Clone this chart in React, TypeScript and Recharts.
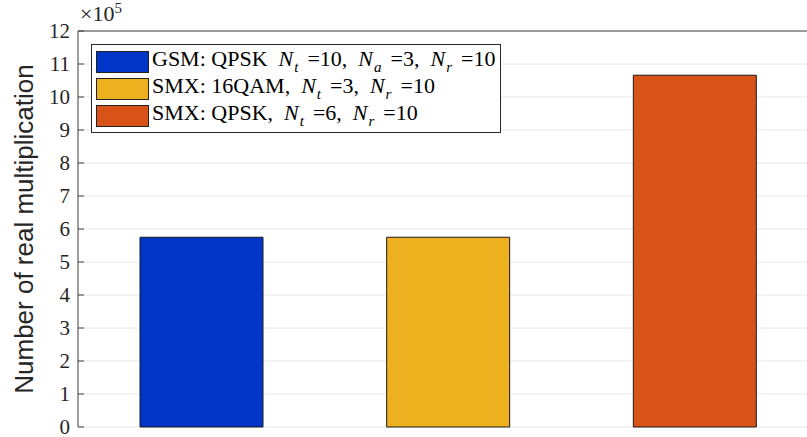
import React from 'react';
import {
  BarChart,
  Bar,
  Cell,
  XAxis,
  YAxis,
  CartesianGrid,
  ReferenceLine,
} from 'recharts';

// values are in units of 10^5
const schemes = ['GSM', 'SMX16', 'SMX4'];
const multiplications = [5.75, 5.75, 10.66];
const barColors = ['#0035c8', '#edb120', '#d95319'];
const yTicks = [0, 1, 2, 3, 4, 5, 6, 7, 8, 9, 10, 11, 12];

const legendLabels = [
  { head: 'GSM: QPSK', parts: [['t', '10'], ['a', '3'], ['r', '10']] },
  { head: 'SMX: 16QAM,', parts: [['t', '3'], ['r', '10']] },
  { head: 'SMX: QPSK,', parts: [['t', '6'], ['r', '10']] },
];

const data = schemes.map((name, i) => ({ name, value: multiplications[i] }));

const serif = '"Liberation Serif", "DejaVu Serif", serif';

function LegendBox() {
  return (
    <div
      style={{
        position: 'absolute',
        left: 91,
        top: 44,
        border: '1px solid #262626',
        background: '#fff',
        padding: '3px 5px 3px 4px',
        fontFamily: serif,
        fontSize: 22,
        color: '#000',
        lineHeight: 1,
      }}
    >
      {legendLabels.map((l, i) => (
        <div key={i} style={{ display: 'flex', alignItems: 'center', height: 27 }}>
          <span
            style={{
              display: 'inline-block',
              width: 51,
              height: 20,
              background: barColors[i],
              border: '1px solid #222',
              marginRight: 3,
              flex: 'none',
            }}
          />
          <span style={{ whiteSpace: 'nowrap' }}>
            {l.head}
            {l.parts.map(([sub, val], j) => (
              <span key={j}>
                <i style={{ marginLeft: 11 }}>N</i>
                <sub style={{ fontSize: 15, fontStyle: 'italic', paddingLeft: 1 }}>{sub}</sub>
                <span style={{ marginLeft: 9 }}>={val}</span>
                {j < l.parts.length - 1 ? ',' : ''}
              </span>
            ))}
          </span>
        </div>
      ))}
    </div>
  );
}

export default function App() {
  return (
    <div
      style={{
        position: 'absolute',
        left: 0,
        top: 0,
        width: 807,
        height: 437,
        overflow: 'hidden',
        background: '#fff',
      }}
    >
      <BarChart
        width={830}
        height={437}
        data={data}
        margin={{ top: 31, right: 12, left: 0, bottom: 10 }}
      >
        <CartesianGrid vertical={false} stroke="#e6e6e6" />
        <XAxis
          dataKey="name"
          tick={false}
          tickSize={-6}
          stroke="#262626"
          height={0}
        />
        <XAxis
          xAxisId="top"
          orientation="top"
          dataKey="name"
          tick={false}
          tickSize={-6}
          stroke="#262626"
          height={0}
        />
        <YAxis
          type="number"
          domain={[0, 12]}
          ticks={yTicks}
          interval={0}
          width={78}
          tickSize={-6}
          tickMargin={14}
          stroke="#404040"
          tick={{ fill: '#262626', fontFamily: serif, fontSize: 21 }}
          label={{
            value: 'Number of real multiplication',
            angle: -90,
            position: 'center',
            dx: -15,
            style: {
              fontFamily: '"Liberation Sans", Arial, sans-serif',
              fontSize: 26,
              fill: '#262626',
              textAnchor: 'middle',
            },
          }}
        />
        <ReferenceLine y={12} stroke="#404040" />
        <Bar
          dataKey="value"
          barSize={123}
          stroke="#1a1a1a"
          strokeWidth={1}
          isAnimationActive={false}
        >
          {data.map((d, i) => (
            <Cell key={d.name} fill={barColors[i]} />
          ))}
        </Bar>
      </BarChart>
      <div
        style={{
          position: 'absolute',
          left: 80,
          top: 0,
          fontFamily: serif,
          fontSize: 22,
          color: '#262626',
        }}
      >
        ×10<sup style={{ fontSize: 15 }}>5</sup>
      </div>
      <LegendBox />
    </div>
  );
}
